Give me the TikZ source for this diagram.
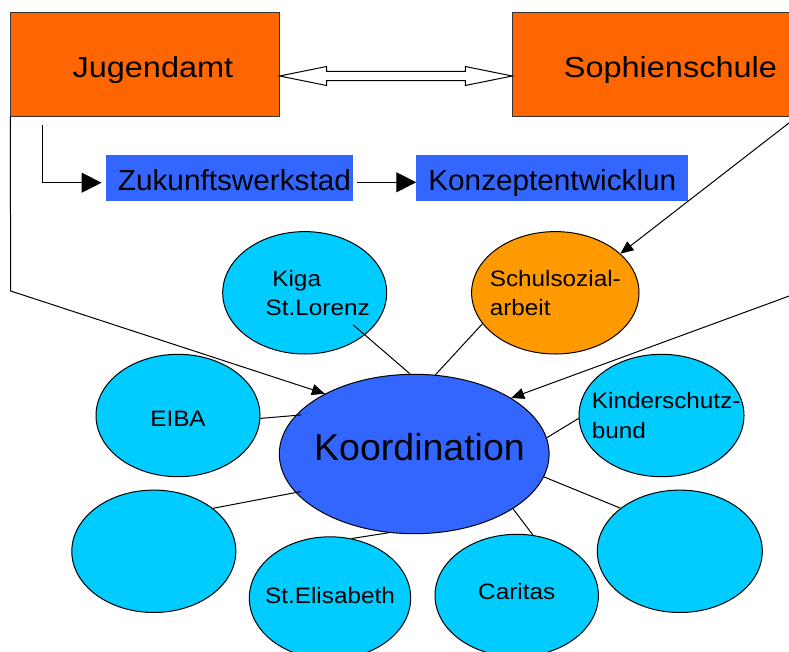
\documentclass[tikz,border=0pt]{standalone}
\usepackage{fontspec}
\setmainfont{Liberation Sans}
\newfontfamily\boxfont[FakeStretch=1.12]{Liberation Sans}
\newfontfamily\barfont[FakeStretch=1.025]{Liberation Sans}
\newfontfamily\ballfont[FakeStretch=1.09]{Liberation Sans}
\usetikzlibrary{positioning,calc,shapes.geometric,arrows.meta}
\definecolor{amtorange}{HTML}{FF6600}
\definecolor{barblue}{HTML}{3366FF}
\definecolor{ballcyan}{HTML}{00CCFF}
\definecolor{ballorange}{HTML}{FF9900}
\definecolor{boxedge}{HTML}{333333}
\tikzset{
  topbox/.style={rectangle, fill=amtorange, draw=boxedge, line width=1pt,
    minimum width=268.3pt, minimum height=103.3pt, inner sep=0pt,
    font=\boxfont\fontsize{29}{34}\selectfont, text height=25.8pt, text depth=0pt},
  barbox/.style={rectangle, fill=barblue, minimum height=45.7pt, inner sep=0pt,
    font=\barfont\fontsize{29}{34}\selectfont, text height=25.6pt, text depth=0pt},
  ball/.style={ellipse, draw=black, line width=1pt, fill=ballcyan,
    minimum width=164pt, minimum height=122.4pt, inner sep=-40pt, align=left,
    font=\ballfont\fontsize{22.3}{29.3}\selectfont},
  link/.style={line width=1pt},
  flow/.style={line width=1pt, -{Triangle[length=20pt,width=20pt]}},
  feed/.style={line width=1pt, -{Triangle[length=13pt,width=11pt]}}
}
\begin{document}
\begin{tikzpicture}[x=1pt,y=-1pt]
  \useasboundingbox (0,0) rectangle (789,651);
  \clip (0,0) rectangle (789,651);

  \node[topbox] (jug) at (144.9,64.4) {\hspace*{16pt}Jugendamt};
  \node[topbox, minimum width=315.3pt, right=232.7pt of jug] (soph) {Sophienschule};
  \node[barbox, minimum width=246.7pt] (zuk) at (229.4,177.9) {\hspace*{10pt}Zukunftswerkstad};
  \node[barbox, minimum width=271.7pt, right=63.3pt of zuk] (konz) {Konzeptentwicklun};

  \node[ball] (kiga) at (304.7,292.8) {\hspace*{32.7pt}Kiga\\\hspace*{26pt}St.Lorenz};
  \node[ball, fill=ballorange, minimum width=167.4pt] (schul) at (555.3,292.8) {Schulsozial-\\arbeit};
  \node[ball, text height=22.4pt, text depth=0pt] (eiba) at (178,415.5) {EIBA};
  \node[ball, minimum width=165pt] (kinder) at (661.5,415.5) {\hspace*{9.4pt}Kinderschutz-\\\hspace*{9.4pt}bund};
  \node[ball] (links) at (153.8,551.3) {};
  \node[ball, minimum width=161.4pt, text height=16.3pt, text depth=5.7pt] (elis) at (330,598) {St.Elisabeth};
  \node[ball, minimum width=163.4pt, text height=16.3pt, text depth=8.7pt] (caritas) at (516.7,595.5) {Caritas};
  \node[ball, minimum width=165pt] (rechts) at (679.8,551.3) {};
  \node[ball, fill=barblue, minimum width=269.8pt, minimum height=159.4pt,
    font=\fontsize{37.5}{45}\selectfont, text height=27.4pt, text depth=14pt]
    (koord) at (414.2,454) {\hspace*{10.6pt}Koordination};

  \coordinate (dl) at ($(jug.east)+(0,11.6)$);
  \coordinate (dr) at ($(soph.west)+(0,11.6)$);
  \draw[fill=white, line width=1pt] (dl) -- ++(47,-9.5) -- ++(0,4.85)
    -- ($(dr)+(-47,-4.65)$) -- ++(0,-4.85) -- (dr) -- ++(-47,9.5) -- ++(0,-4.85)
    -- ($(dl)+(47,4.65)$) -- ++(0,4.85) -- cycle;

  \coordinate (jstart) at ($(jug.south west)+(32,8.3)$);
  \coordinate (jknick) at (10.7,291);
  \coordinate (sstart) at ($(soph.south west)+(285,0)$);
  \coordinate (rfern) at (820,284.7);

  \draw[flow, shorten >=4.3pt] (jstart) |- ([yshift=-4.8pt]zuk.west);
  \draw[flow, shorten <=4pt] ([yshift=-4.4pt]zuk.east) -- ([yshift=-4.4pt]konz.west);
  \draw[feed] (jug.south west) -- (jknick) -- (koord.146);
  \draw[feed] (sstart) -- (schul.31);
  \draw[feed] (rfern) -- (koord.30);

  \draw[link, shorten <=-15.4pt] (kiga.-35) -- (koord.93);
  \draw[link] (schul.203) -- (koord.75);
  \draw[link, shorten >=-6pt] (eiba.-2) -- (koord.162);
  \draw[link] (kinder.182) -- (koord.7);
  \draw[link, shorten >=-6pt] (links.36) -- (koord.198);
  \draw[link] (elis.70) -- (koord.252);
  \draw[link] (caritas.75) -- (koord.-29);
  \draw[link] (rechts.144) -- (koord.-10);
\end{tikzpicture}
\end{document}
